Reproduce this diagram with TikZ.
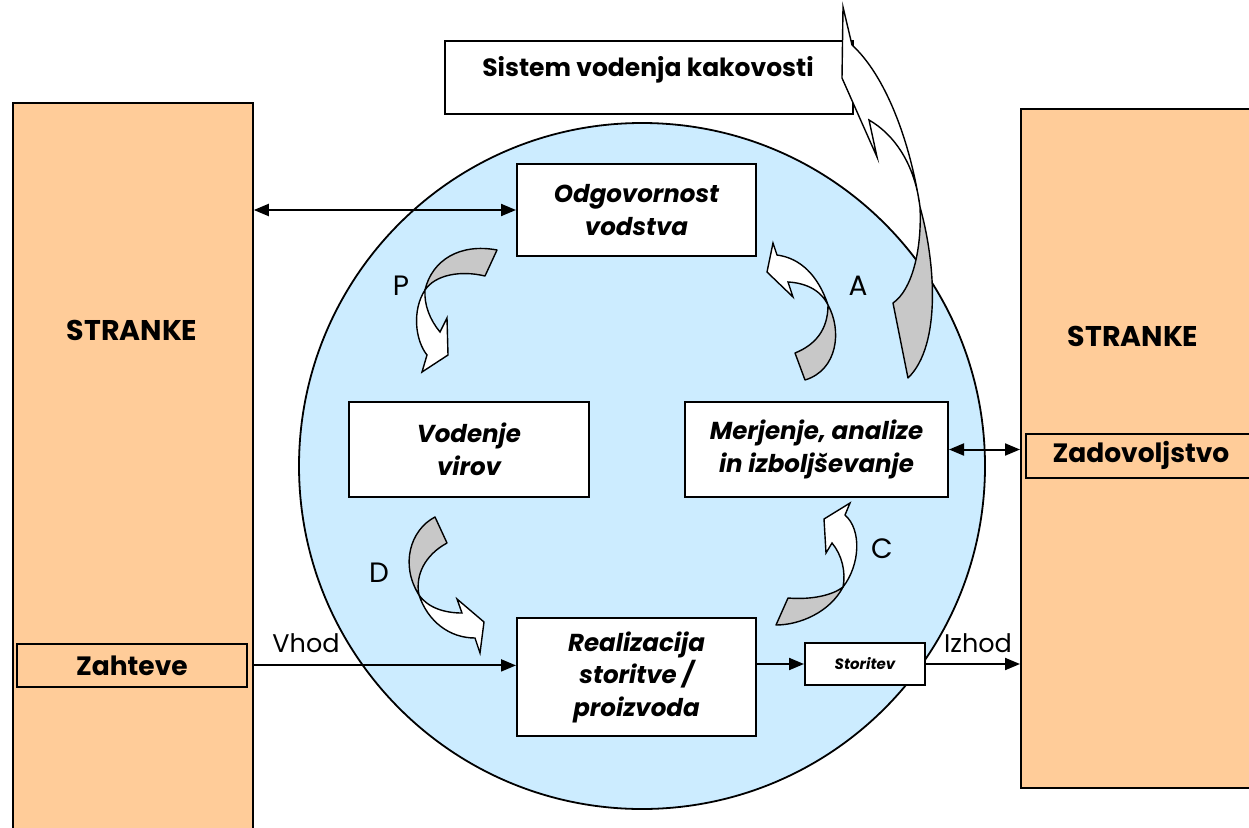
\documentclass[tikz,border=0pt]{standalone}
\usepackage{fontspec}
\setmainfont{Poppins}
\usetikzlibrary{arrows.meta}
\definecolor{peach}{RGB}{255,204,153}
\definecolor{skyb}{RGB}{204,236,255}
\definecolor{arrgray}{RGB}{200,200,200}
\begin{document}
\begin{tikzpicture}[x=1pt,y=-1pt,
  sidebox/.style={draw, fill=peach, line width=1.8pt, inner sep=0pt, anchor=north west},
  wbox/.style={draw, fill=white, line width=2pt, inner sep=0pt, anchor=north west, align=center,
     font=\bfseries\itshape\fontsize{24.5}{32.5}\selectfont},
  tagbox/.style={draw, fill=peach, line width=1.8pt, inner sep=0pt, anchor=north west,
     font=\bfseries\fontsize{26.5}{30}\selectfont},
  bigtxt/.style={font=\bfseries\fontsize{28.5}{32}\selectfont},
  pdca/.style={font=\fontsize{28}{32}\selectfont},
  iolbl/.style={font=\fontsize{25.5}{30}\selectfont},
  conn/.style={line width=2pt, -{Triangle[length=15pt,width=12pt]}},
  dconn/.style={line width=2pt, {Triangle[length=15pt,width=12pt]}-{Triangle[length=15pt,width=12pt]}},
  band/.style={draw, line width=1.4pt, line join=round, fill=arrgray},
  head/.style={draw, line width=1.4pt, line join=miter, fill=white}
]
\useasboundingbox (0,0) rectangle (1249,827);

% side blocks
\node[sidebox, minimum width=240pt, minimum height=760pt] (L) at (12,102) {};
\node[sidebox, minimum width=260pt, minimum height=679pt] (R) at (1020,108) {};
\node[bigtxt] (Ltxt) at (132,330) {STRANKE};
\node[bigtxt] (Rtxt) at (1133,336) {STRANKE};
\node[tagbox, minimum width=230pt, minimum height=43pt] (Zah) at (16,643) {Zahteve};
\node[tagbox, minimum width=240pt, minimum height=44pt] (Zad) at (1025,433) {\hspace*{-10pt}Zadovoljstvo};

% circle
\node[draw, fill=skyb, line width=1.8pt, circle, minimum size=686pt, inner sep=0pt] (C) at (642,466) {};

% top box
\node[draw, fill=white, line width=2pt, inner sep=0pt, anchor=north west, minimum width=408pt, minimum height=73pt] (Sis) at (444,40) {};
\node[font=\bfseries\fontsize{25}{30}\selectfont] (Sistxt) at (648,70) {Sistem vodenja kakovosti};

% process boxes
\node[wbox, minimum width=239pt, minimum height=92pt] (Odg) at (516,163) {Odgovornost\\vodstva};
\node[wbox, minimum width=240pt, minimum height=95pt] (Vod) at (348,401) {Vodenje\\virov};
\node[wbox, minimum width=263pt, minimum height=95pt] (Mer) at (684,401) {Merjenje, analize\\in izboljševanje};
\node[wbox, minimum width=239pt, minimum height=118pt] (Real) at (516,617) {Realizacija\\storitve /\\proizvoda};
\node[wbox, minimum width=120pt, minimum height=42pt, font=\bfseries\itshape\fontsize{15}{18}\selectfont] (Stor) at (804,642) {Storitev};

% connectors
\draw[dconn] (Odg.west -| L.east) -- (Odg.west);
\draw[dconn] (Mer.east) -- (Mer.east -| R.west);
\draw[conn] (Zah.east -| L.east) -- (Zah.east -| Real.west);
\draw[conn] (Stor.west -| Real.east) -- (Stor.west);
\draw[conn] (Stor.east) -- (Stor.east -| R.west);
\node[iolbl] (vhod) at (306,643) {Vhod};
\node[iolbl] (izhod) at (978,643) {Izhod};

% PDCA letters
\node[pdca] (P) at (401,286) {P};
\node[pdca] (A) at (858,286) {A};
\node[pdca] (D) at (379,573) {D};
\node[pdca] (Cc) at (882,549) {C};

% P arrow
\path[band] (425,290) .. controls (432,260) and (460,243) .. (497,250) -- (485,276) .. controls (460,270) and (435,275) .. cycle;
\path[head] (425,290) .. controls (412,310) and (415,340) .. (427,355) -- (422,372) -- (448,355) -- (447,318) -- (440,332) .. controls (430,320) and (424,305) .. cycle;

% D arrow
\path[band] (419,595) .. controls (400,565) and (410,530) .. (435,517) -- (447,543) .. controls (425,555) and (415,575) .. cycle;
\path[head] (419,595) .. controls (428,622) and (450,638) .. (475,638) -- (480,653) -- (484,622) -- (457,599) -- (462,613) .. controls (445,613) and (428,608) .. cycle;

% C arrow
\path[band] (843,587) .. controls (830,612) and (800,625) .. (776,625) -- (788,598) .. controls (812,600) and (833,595) .. cycle;
\path[head] (843,587) .. controls (860,565) and (862,530) .. (845,515) -- (850,503) -- (824,519) -- (826,553) -- (832,543) .. controls (842,555) and (846,572) .. cycle;

% A arrow
\path[band] (828,305) .. controls (842,330) and (838,370) .. (805,380) -- (795,353) .. controls (815,345) and (828,330) .. cycle;
\path[head] (828,305) .. controls (818,275) and (800,258) .. (777,255) -- (773,243) -- (767,272) -- (793,297) -- (788,282) .. controls (808,283) and (822,292) .. cycle;

% big arrow
\path[band] (920,207) .. controls (935,260) and (942,345) .. (908,378) -- (893,303) .. controls (912,290) and (922,250) .. cycle;
\path[head] (920,207) .. controls (910,140) and (885,75) .. (852,45) -- (843,7) -- (842,78) -- (877,157) -- (869,120) .. controls (895,135) and (915,165) .. cycle;
\end{tikzpicture}
\end{document}
